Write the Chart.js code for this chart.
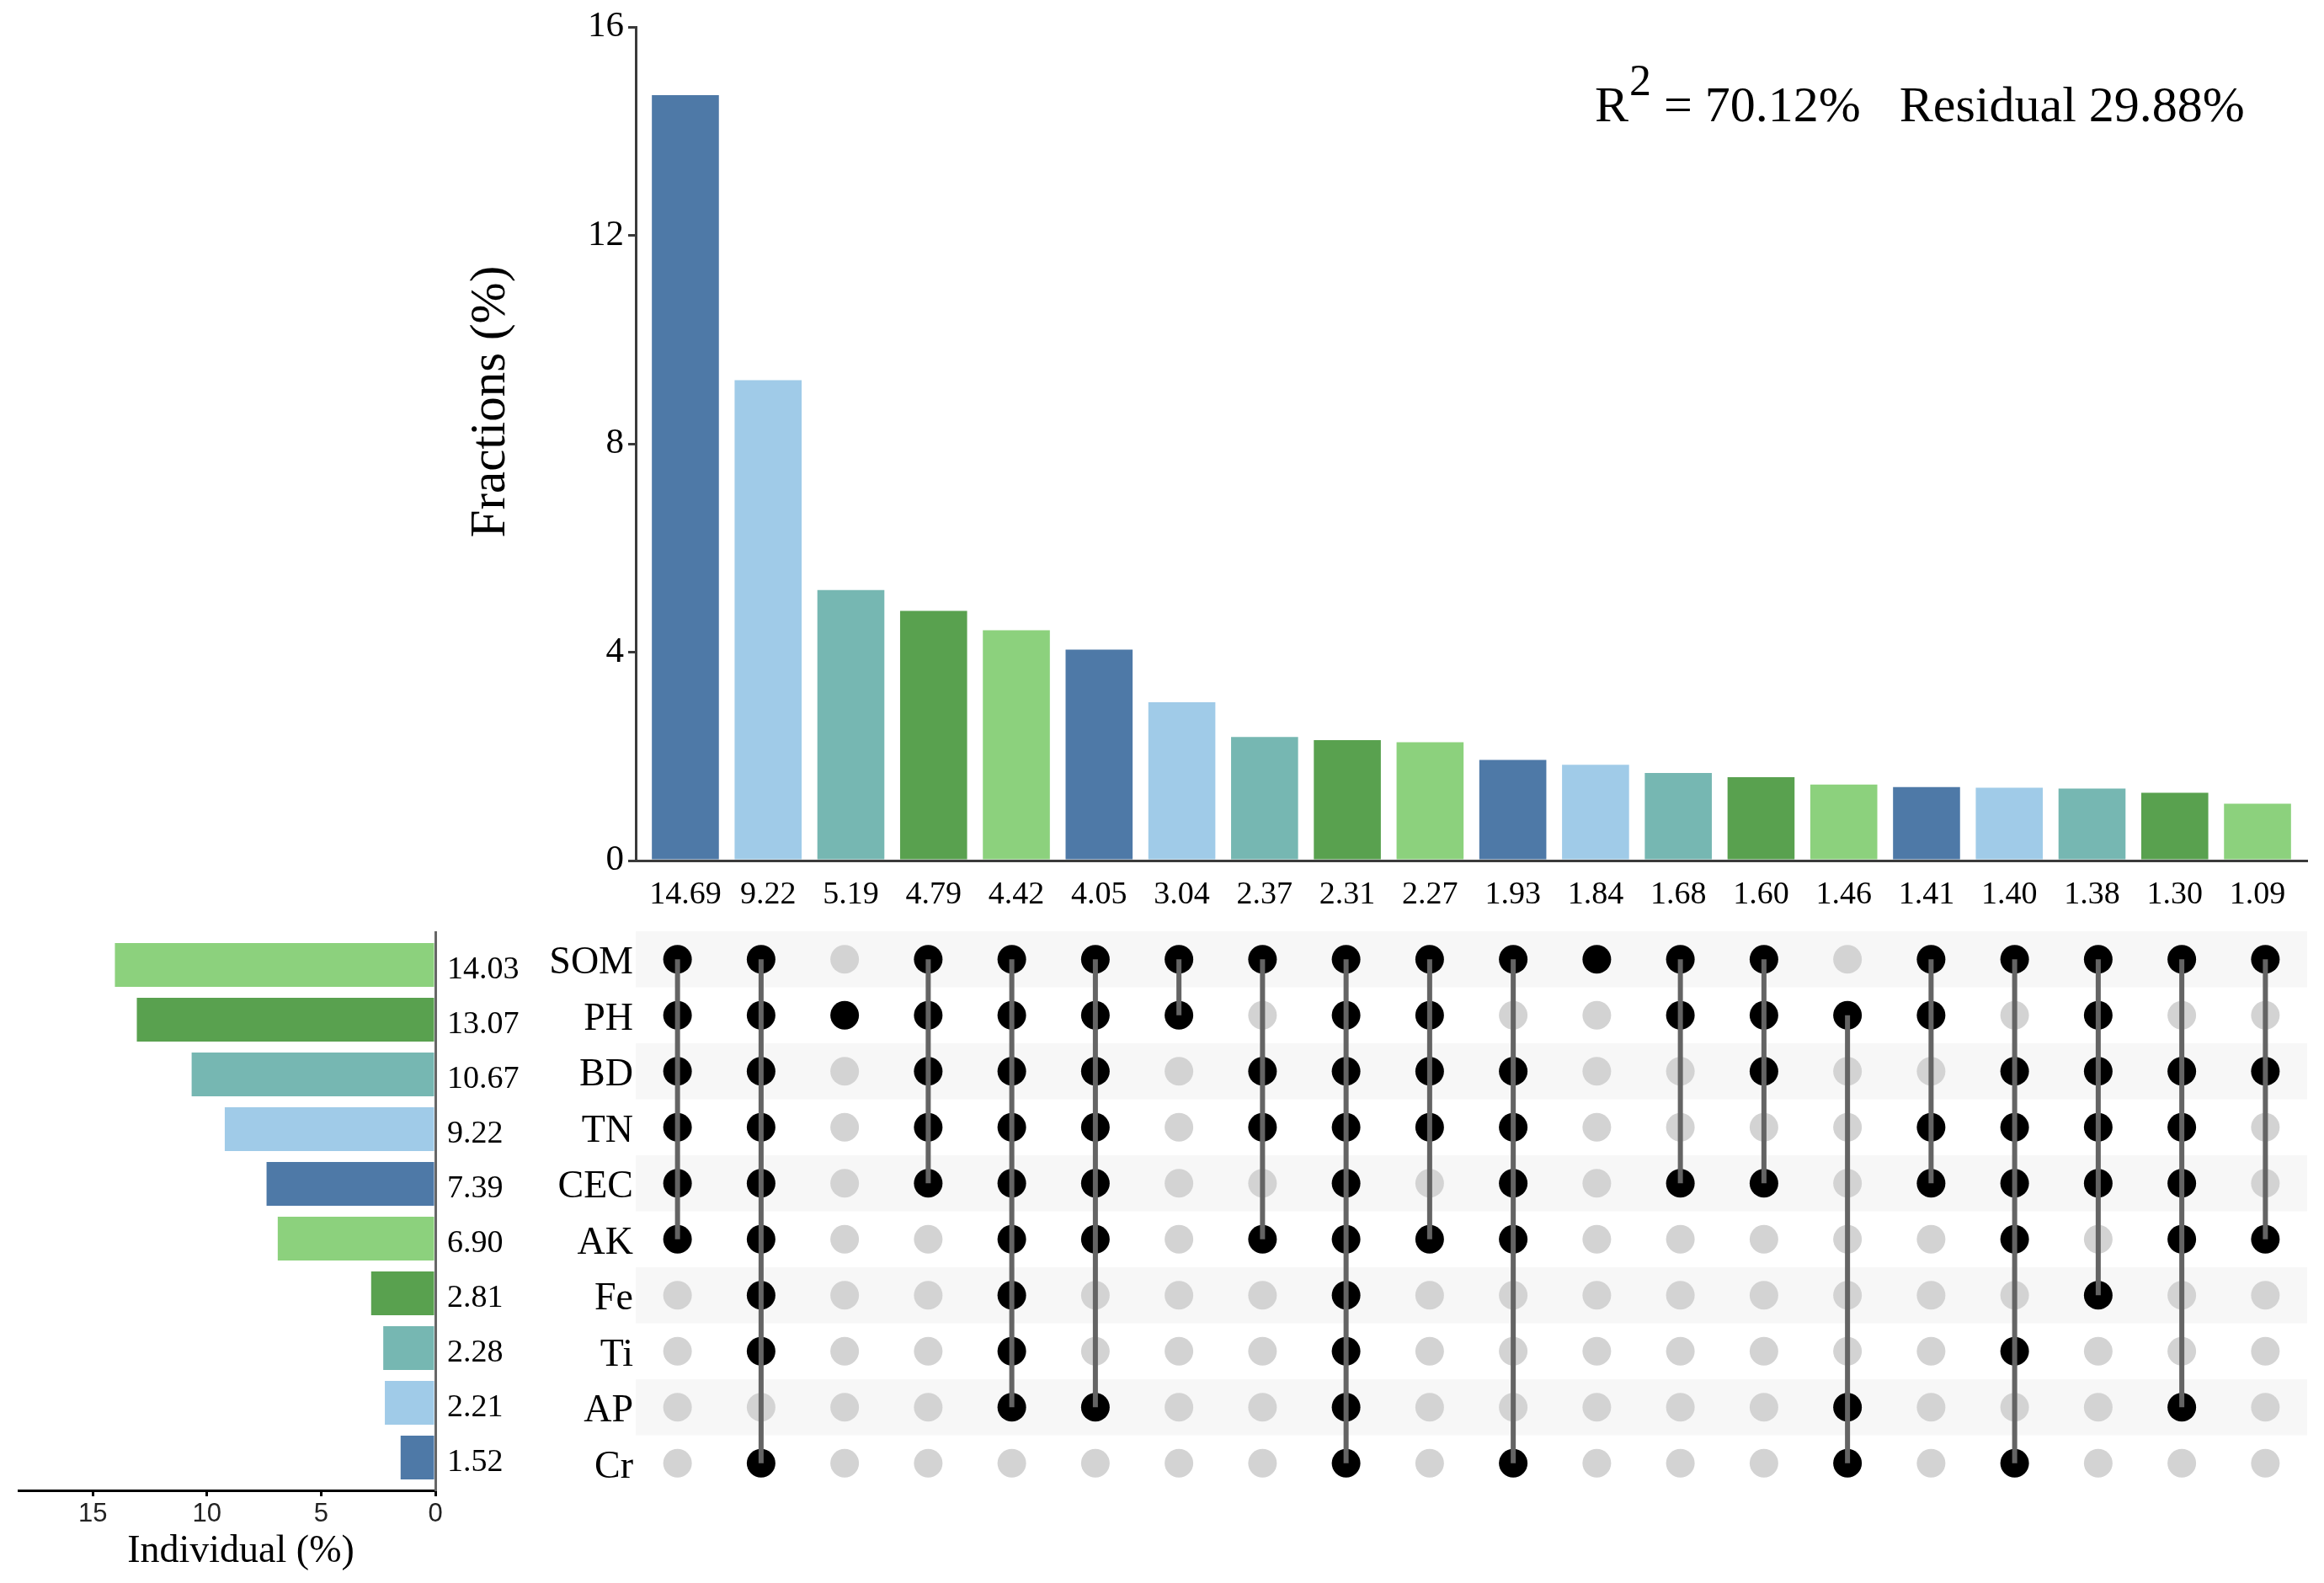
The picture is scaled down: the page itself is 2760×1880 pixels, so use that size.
<!DOCTYPE html>
<html>
<head>
<meta charset="utf-8">
<title>Variance partitioning upset plot</title>
<script src="https://cdn.jsdelivr.net/npm/chart.js@4.4.1/dist/chart.umd.min.js"></script>
<style>
  html, body { margin: 0; padding: 0; background: #fff; }
  #wrap { position: relative; width: 2760px; height: 1880px; }
  #wrap canvas { position: absolute; left: 0; top: 0; width: 2760px; height: 1880px; }
</style>
</head>
<body>
<div id="wrap">
  <canvas id="fractions" width="2760" height="1880"></canvas>
  <canvas id="matrix" width="2760" height="1880"></canvas>
  <canvas id="individual" width="2760" height="1880"></canvas>
</div>
<script>
// ---- data ----
const variables = ['SOM', 'PH', 'BD', 'TN', 'CEC', 'AK', 'Fe', 'Ti', 'AP', 'Cr'];
const individual = [14.03, 13.07, 10.67, 9.22, 7.39, 6.90, 2.81, 2.28, 2.21, 1.52];
const fractions = [14.69, 9.22, 5.19, 4.79, 4.42, 4.05, 3.04, 2.37, 2.31, 2.27,
                   1.93, 1.84, 1.68, 1.60, 1.46, 1.41, 1.40, 1.38, 1.30, 1.09];
// which variables make up each fraction (one entry per bar)
const combinations = [
  ['SOM', 'PH', 'BD', 'TN', 'CEC', 'AK'],
  ['SOM', 'PH', 'BD', 'TN', 'CEC', 'AK', 'Fe', 'Ti', 'Cr'],
  ['PH'],
  ['SOM', 'PH', 'BD', 'TN', 'CEC'],
  ['SOM', 'PH', 'BD', 'TN', 'CEC', 'AK', 'Fe', 'Ti', 'AP'],
  ['SOM', 'PH', 'BD', 'TN', 'CEC', 'AK', 'AP'],
  ['SOM', 'PH'],
  ['SOM', 'BD', 'TN', 'AK'],
  ['SOM', 'PH', 'BD', 'TN', 'CEC', 'AK', 'Fe', 'Ti', 'AP', 'Cr'],
  ['SOM', 'PH', 'BD', 'TN', 'AK'],
  ['SOM', 'BD', 'TN', 'CEC', 'AK', 'Cr'],
  ['SOM'],
  ['SOM', 'PH', 'CEC'],
  ['SOM', 'PH', 'BD', 'CEC'],
  ['PH', 'AP', 'Cr'],
  ['SOM', 'PH', 'TN', 'CEC'],
  ['SOM', 'BD', 'TN', 'CEC', 'AK', 'Ti', 'Cr'],
  ['SOM', 'PH', 'BD', 'TN', 'CEC', 'Fe'],
  ['SOM', 'BD', 'TN', 'CEC', 'AK', 'AP'],
  ['SOM', 'BD', 'AK']
];
const fractionTicks = [0, 4, 8, 12, 16];
const individualTicks = [0, 5, 10, 15];
const rSquared = '70.12%';
const residual = '29.88%';

// ---- styles ----
const palette = ['#4E79A7', '#A0CBE8', '#76B7B2', '#59A14F', '#8CD17D'];
const serif = '"Liberation Serif", "Times New Roman", serif';
const sans = '"Liberation Sans", Arial, sans-serif';
const W = 2760, H = 1880;

Chart.defaults.font.family = serif;
Chart.defaults.color = '#000';

const common = {
  responsive: false,
  animation: false,
  devicePixelRatio: 1,
  events: [],
  plugins: { legend: { display: false }, tooltip: { enabled: false } }
};

// ---------- top: fraction bars ----------
const fracText = {
  id: 'fracText',
  afterDraw(chart) {
    const ctx = chart.ctx;
    ctx.save();
    ctx.fillStyle = '#000';
    // y axis title
    ctx.font = `59px ${serif}`;
    ctx.textAlign = 'center';
    ctx.textBaseline = 'middle';
    ctx.translate(583, 477);
    ctx.rotate(-Math.PI / 2);
    ctx.fillText('Fractions (%)', 0, 0);
    ctx.restore();

    // R^2 annotation
    ctx.save();
    ctx.fillStyle = '#000';
    ctx.textAlign = 'left';
    ctx.textBaseline = 'alphabetic';
    const base = 144;
    let x = 1894;
    ctx.font = `60px ${serif}`;
    ctx.fillText('R', x, base);
    x += ctx.measureText('R').width + 1;
    ctx.font = `52px ${serif}`;
    ctx.fillText('2', x, base - 31);
    x += ctx.measureText('2').width;
    ctx.font = `60px ${serif}`;
    const part = ' = ' + rSquared;
    ctx.fillText(part, x, base);
    x += ctx.measureText(part).width + 46;
    ctx.fillText('Residual ' + residual, x, base);
    ctx.restore();
  }
};

new Chart(document.getElementById('fractions'), {
  type: 'bar',
  data: {
    datasets: [{
      data: fractions.map((v, i) => ({ x: i + 1, y: v })),
      backgroundColor: fractions.map((_, i) => palette[i % palette.length]),
      borderWidth: 0,
      barPercentage: 0.81,
      categoryPercentage: 1
    }]
  },
  options: {
    ...common,
    layout: { padding: { top: 32, right: 20, left: 0, bottom: 0 } },
    scales: {
      x: {
        type: 'linear', min: 0.4, max: 20.6, offset: false,
        afterBuildTicks: s => { s.ticks = fractions.map((_, i) => ({ value: i + 1 })); },
        afterFit: s => { s.height = H - 1022; },
        grid: { display: false, drawTicks: false, offset: false },
        border: { display: true, color: '#3a3a3a', width: 3 },
        ticks: {
          callback: v => fractions[v - 1].toFixed(2),
          font: { family: serif, size: 38 }, color: '#000',
          padding: 18, maxRotation: 0, autoSkip: false
        }
      },
      y: {
        min: 0, max: 16,
        afterBuildTicks: s => { s.ticks = fractionTicks.map(v => ({ value: v })); },
        afterFit: s => { s.width = 755; },
        grid: { drawOnChartArea: false, drawTicks: true, tickLength: 9, color: '#3a3a3a', lineWidth: 3 },
        border: { display: true, color: '#3a3a3a', width: 3 },
        ticks: { font: { family: serif, size: 43 }, color: '#000', padding: 5 }
      }
    }
  },
  plugins: [fracText]
});

// ---------- middle: membership matrix ----------
const blackDots = [], grayDots = [], links = [];
combinations.forEach((set, c) => {
  variables.forEach((name, r) => {
    (set.includes(name) ? blackDots : grayDots).push({ x: c + 1, y: r });
  });
  const rows = set.map(n => variables.indexOf(n));
  if (rows.length > 1) {
    links.push({
      type: 'line',
      data: [{ x: c + 1, y: Math.min(...rows) }, { x: c + 1, y: Math.max(...rows) }],
      borderColor: '#646464', borderWidth: 6,
      pointRadius: 0, fill: false, order: 0
    });
  }
});

const stripes = {
  id: 'stripes',
  beforeDatasetsDraw(chart) {
    const { ctx, chartArea: a, scales: { y } } = chart;
    ctx.save();
    ctx.fillStyle = '#F7F7F7';
    variables.forEach((_, r) => {
      if (r % 2) return;
      const t = y.getPixelForValue(r - 0.5), b = y.getPixelForValue(r + 0.5);
      ctx.fillRect(a.left, Math.min(t, b), a.width, Math.abs(b - t));
    });
    ctx.restore();
  }
};

new Chart(document.getElementById('matrix'), {
  type: 'scatter',
  data: {
    datasets: [
      ...links,
      { data: blackDots, backgroundColor: '#000', pointRadius: 17, borderWidth: 0, order: 1 },
      { data: grayDots, backgroundColor: '#D3D3D3', pointRadius: 17, borderWidth: 0, order: 2 }
    ]
  },
  options: {
    ...common,
    layout: { padding: { top: 1106, right: 20, left: 0, bottom: H - 1771 } },
    scales: {
      x: { type: 'linear', min: 0.5, max: 20.5, display: false },
      y: {
        type: 'linear', min: -0.5, max: 9.5, reverse: true,
        afterBuildTicks: s => { s.ticks = variables.map((_, r) => ({ value: r })); },
        afterFit: s => { s.width = 755; },
        grid: { display: false, drawTicks: false },
        border: { display: false },
        ticks: { callback: v => variables[v], font: { family: serif, size: 46 }, color: '#000', padding: 3, labelOffset: 5 }
      }
    }
  },
  plugins: [stripes]
});

// ---------- left: individual bars ----------
const indivTitle = {
  id: 'indivTitle',
  afterDraw(chart) {
    const ctx = chart.ctx;
    ctx.save();
    ctx.fillStyle = '#000';
    ctx.font = `46px ${serif}`;
    ctx.textAlign = 'center';
    ctx.textBaseline = 'middle';
    ctx.fillText('Individual (%)', 286, 1843);
    ctx.restore();
  }
};

new Chart(document.getElementById('individual'), {
  type: 'bar',
  data: {
    datasets: [{
      data: individual.map((v, r) => ({ x: v, y: r })),
      backgroundColor: variables.map((_, r) => palette[(variables.length - 1 - r) % palette.length]),
      borderWidth: 0,
      barPercentage: 0.8,
      categoryPercentage: 1
    }]
  },
  options: {
    ...common,
    indexAxis: 'y',
    layout: { padding: { top: 1107, left: 22, right: 0, bottom: 0 } },
    scales: {
      x: {
        type: 'linear', reverse: true, min: 0, max: 18.25,
        afterBuildTicks: s => { s.ticks = individualTicks.map(v => ({ value: v })); },
        afterFit: s => { s.height = H - 1770; },
        grid: { drawOnChartArea: false, drawTicks: true, tickLength: 7, color: '#000', lineWidth: 3 },
        border: { display: true, color: '#000', width: 3 },
        ticks: { font: { family: sans, size: 31 }, color: '#222', padding: 3 }
      },
      y: {
        type: 'linear', position: 'right', reverse: true, min: -0.6, max: 9.6, offset: false,
        afterBuildTicks: s => { s.ticks = variables.map((_, r) => ({ value: r })); },
        afterFit: s => { s.width = W - 517; },
        grid: { display: false, drawTicks: false, offset: false },
        border: { display: true, color: '#666', width: 3 },
        ticks: { callback: v => individual[v].toFixed(2), font: { family: serif, size: 38 }, color: '#000', padding: 14, labelOffset: 6 }
      }
    }
  },
  plugins: [indivTitle]
});
</script>
</body>
</html>
